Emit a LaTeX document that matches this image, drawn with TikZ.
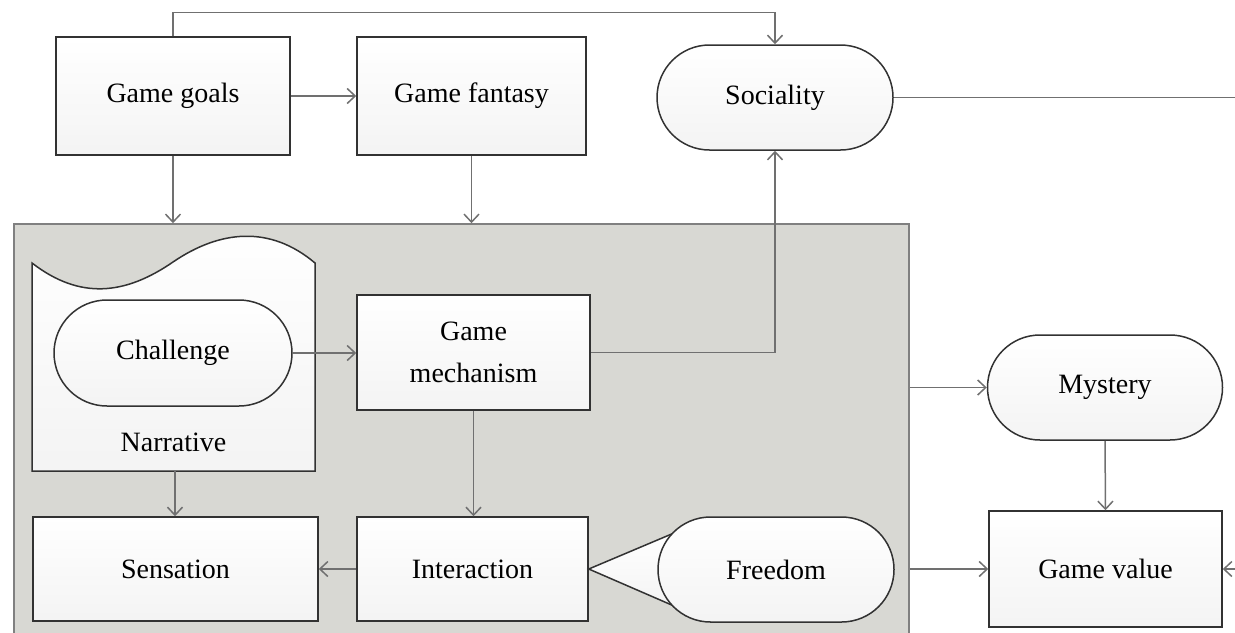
\documentclass[tikz,border=0pt]{standalone}
\usepackage{fontspec}
\setmainfont{Liberation Serif}
\usetikzlibrary{arrows.meta,shapes.misc,calc}
\definecolor{panelgray}{RGB}{216,216,211}
\definecolor{linegray}{RGB}{112,112,112}
\definecolor{edgegray}{RGB}{50,50,50}

\begin{document}
\begin{tikzpicture}[x=0.5pt,y=-0.5pt,
  every node/.style={font=\fontsize{14}{21}\selectfont},
  box/.style={draw=edgegray, top color=white, bottom color=gray!9, line width=0.75pt, align=center, inner sep=0pt},
  pill/.style={box, rounded rectangle},
  link/.style={draw=linegray, line width=0.75pt},
  >={Straight Barb[length=4pt,width=7.5pt]}]
\useasboundingbox (0,0) rectangle (1235,632);
\clip (0,0) rectangle (1235,632);

\node[draw=gray, fill=panelgray, line width=0.8pt, minimum width=447.5pt, minimum height=212pt] (panel) at (461.5,436) {};

\node[box, minimum width=117pt, minimum height=59pt] (goals) at (173,96) {Game goals};
\node[box, minimum width=114.5pt, minimum height=59pt] (fantasy) at (471.5,96) {Game fantasy};
\node[pill, minimum width=118pt, minimum height=52.5pt] (social) at (775,97.5) {Sociality};

% narrative
\draw[box] (32,263) .. controls (80,300) and (125,295) .. (173,262) .. controls (220,230) and (270,225) .. (315,263) -- (315,471) -- (32,471) -- cycle;
\node (narr) at (173.5,442) {Narrative};
\coordinate (narrbot) at (175,471);
\node[pill, minimum width=119pt, minimum height=53pt] (chall) at (173,353) {Challenge};

\node[box, minimum width=116.5pt, minimum height=57.5pt] (mech) at (473.5,352.5) {Game\\mechanism};
\node[box, minimum width=142.5pt, minimum height=52pt] (sens) at (175.5,569) {Sensation};
\node[box, minimum width=115.5pt, minimum height=52pt] (inter) at (472.5,569) {Interaction};

% callout
\draw[box] (inter.east) -- (674,533) -- (674,606) -- cycle;
\node[pill, minimum width=118pt, minimum height=52.5pt] (free) at (776,569.5) {Freedom};

\node[pill, minimum width=117.5pt, minimum height=52.5pt] (myst) at (1105,387.5) {Mystery};
\node[box, minimum width=116.5pt, minimum height=58pt] (value) at (1105.5,569) {Game value};

\coordinate (socout) at (1240,97.5);
\coordinate (valin) at (1240,569);

\draw[link,->] (goals.north) -- ++(0,-24) -| (social.north);
\draw[link,->] (goals.east) -- (fantasy.west);
\draw[link] (social.east) -- (socout);
\draw[link,->] (goals.south) -- (goals.south |- panel.north);
\draw[link,->] (fantasy.south) -- (fantasy.south |- panel.north);
\draw[link,->] (chall.east) -- (chall.east -| mech.west);
\draw[link,->] (mech.east) -| (social.south);
\draw[link,->] (mech.south) -- (mech.south |- inter.north);
\draw[link,->] (narrbot) -- (narrbot |- sens.north);
\draw[link,->] (inter.west) -- (sens.east);
\draw[link,->] (panel.east |- myst.west) -- (myst.west);
\draw[link,->] (myst.south) -- (value.north);
\draw[link,->] (panel.east |- value.west) -- (value.west);
\draw[link,->] (valin) -- (value.east);
\end{tikzpicture}
\end{document}
